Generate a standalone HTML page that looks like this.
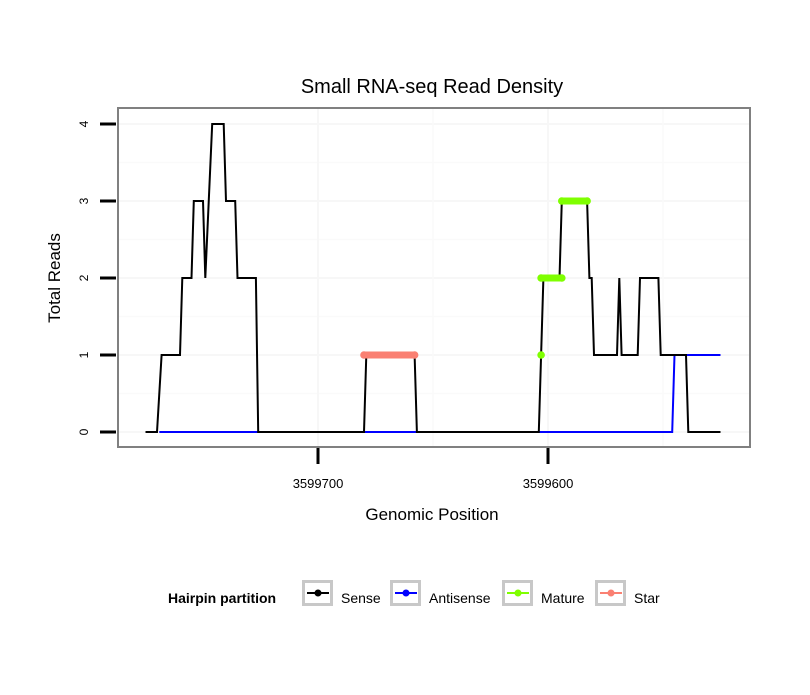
<!DOCTYPE html>
<html><head><meta charset="utf-8"><style>
body{margin:0;background:#fff;font-family:"Liberation Sans",sans-serif}
svg text{font-family:"Liberation Sans",sans-serif}
</style></head><body>
<svg id="chart" width="810" height="690">
<rect width="810" height="690" fill="#fff"/>
<text x="432" y="93" font-size="20" text-anchor="middle">Small RNA-seq Read Density</text>
<g id="grid"></g>
<g id="series"></g>
<rect x="118" y="108" width="632" height="339" fill="none" stroke="#808080" stroke-width="2"/>
<g id="axes"></g>
<text x="432" y="520" font-size="17" text-anchor="middle">Genomic Position</text>
<text transform="translate(60,278) rotate(-90)" font-size="17" text-anchor="middle">Total Reads</text>
<g>
<text x="168" y="603" font-size="14" font-weight="bold">Hairpin partition</text>
<g id="legend"></g>
</g>
</svg>
<script>
const yTicks=[0,1,2,3,4];
const xTicks=[3599700,3599600];
const xTickLabels=["3599700","3599600"];
const sensePos=[3599775,3599770,3599768,3599760,3599759,3599755,3599754,3599750,3599749,3599746,3599741,3599740,3599736,3599735,3599727,3599726,3599680,3599679,3599658,3599657,3599604,3599603,3599602,3599595,3599594,3599583,3599582,3599581,3599580,3599570,3599569,3599568,3599561,3599560,3599552,3599551,3599540,3599539,3599525];
const senseVal=[0,0,1,1,2,2,3,3,2,4,4,3,3,2,2,0,0,1,1,0,0,1,2,2,3,3,2,2,1,1,2,1,1,2,2,1,1,0,0];
const antiPos=[3599769,3599546,3599545,3599525];
const antiVal=[0,0,1,1];
const maturePos=[3599603,3599603,3599594,3599594,3599583];
const matureVal=[1,2,2,3,3];
const starPos=[3599680,3599658];
const starVal=[1,1];
const legendLabels=["Sense","Antisense","Mature","Star"];
const legendColors=["#000","#0000ff","#7fff00","#fa8072"];

const NS="http://www.w3.org/2000/svg";
const X=p=>318+(3599700-p)*2.3;
const Y=v=>432-v*77;
function mk(tag,attrs,parent){const e=document.createElementNS(NS,tag);for(const k in attrs)e.setAttribute(k,attrs[k]);parent.appendChild(e);return e;}
const grid=document.getElementById('grid'),axes=document.getElementById('axes'),series=document.getElementById('series'),legend=document.getElementById('legend');
yTicks.forEach(v=>{
  const g=mk('line',{x1:118,x2:750,y1:Y(v),y2:Y(v),stroke:'#f7f7f7','stroke-width':2},grid);
  
  
  if(v<yTicks[yTicks.length-1]){
    const m=mk('line',{x1:118,x2:750,y1:Y(v+0.5),y2:Y(v+0.5),stroke:'#fafafa','stroke-width':1.5},grid);
    
    
  }
  const t=mk('line',{x1:100,x2:116,y1:Y(v),y2:Y(v),stroke:'#000','stroke-width':3},axes);
  
  
  const l=mk('text',{transform:`translate(88,${Y(v)}) rotate(-90)`,'font-size':12,'text-anchor':'middle'},axes);
  l.textContent=v;
  
  
});
xTicks.forEach((p,i)=>{
  const g=mk('line',{x1:X(p),x2:X(p),y1:108,y2:447,stroke:'#f7f7f7','stroke-width':2},grid);
  
  
  const m=mk('line',{x1:X(p-50),x2:X(p-50),y1:108,y2:447,stroke:'#fafafa','stroke-width':1.5},grid);
  
  
  const t=mk('line',{x1:X(p),x2:X(p),y1:448,y2:464,stroke:'#000','stroke-width':3},axes);
  
  
  const l=mk('text',{x:X(p),y:488,'font-size':13,'text-anchor':'middle'},axes);
  l.textContent=xTickLabels[i];
  
  
});
function path(ps,vs){return ps.map((p,i)=>(i?'L':'M')+X(p)+','+Y(vs[i])).join(' ');}
const bl=mk('path',{d:path(antiPos,antiVal),fill:'none',stroke:'#0000ff','stroke-width':2},series);


const sl=mk('path',{d:path(sensePos,senseVal),fill:'none',stroke:'#000','stroke-width':2},series);


function thick(ps,vs,color,name){
  for(let i=0;i<ps.length;i++){
    if(i>0&&vs[i]===vs[i-1]){
      const s=mk('line',{x1:X(ps[i-1]),x2:X(ps[i]),y1:Y(vs[i]),y2:Y(vs[i]),stroke:color,'stroke-width':7,'stroke-linecap':'round'},series);
      
      
    }
    const c=mk('circle',{cx:X(ps[i]),cy:Y(vs[i]),r:3.8,fill:color},series);
    
    
  }
}
thick(maturePos,matureVal,'#7fff00','mature');
thick(starPos,starVal,'#fa8072','star');
const boxX=[302,390,502,595];
legendLabels.forEach((lab,i)=>{
  const b=mk('rect',{x:boxX[i]+1.5,y:581.5,width:28,height:23,fill:'#fff',stroke:'#c8c8c8','stroke-width':3},legend);
  
  
  mk('line',{x1:boxX[i]+5,x2:boxX[i]+27,y1:593,y2:593,stroke:legendColors[i],'stroke-width':2},legend);
  mk('circle',{cx:boxX[i]+16,cy:593,r:3.5,fill:legendColors[i]},legend);
  const t=mk('text',{x:boxX[i]+39,y:603,'font-size':14},legend);
  t.textContent=lab;
  
  
});
</script>
</body></html>
